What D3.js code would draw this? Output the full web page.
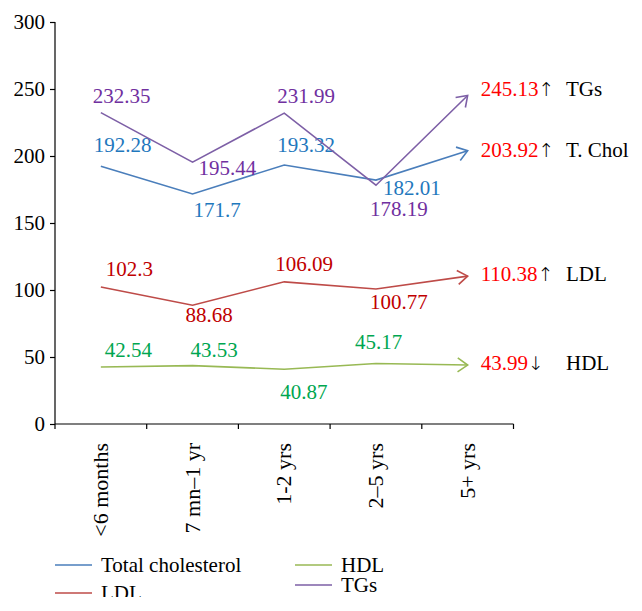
<!DOCTYPE html>
<html><head><meta charset="utf-8">
<script src="https://cdn.jsdelivr.net/npm/d3@7"></script>
<style>
body{margin:0;background:#fff;}
svg{display:block;font-family:"Liberation Serif","Times New Roman",serif;}
</style></head>
<body><svg id="c" width="642" height="611"></svg>
<script>
// ---- data ----
const categories = ["<6 months", "7 mn\u20131 yr", "1-2 yrs", "2\u20135 yrs", "5+ yrs"];
const totalChol = [192.28, 171.7, 193.32, 182.01, 203.92];
const ldl = [102.3, 88.68, 106.09, 100.77, 110.38];
const hdl = [42.54, 43.53, 40.87, 45.17, 43.99];
const tgs = [232.35, 195.44, 231.99, 178.19, 245.13];
const yTicks = [0, 50, 100, 150, 200, 250, 300];
const seriesNames = ["Total cholesterol", "LDL", "HDL", "TGs"];
const endLabels = ["T. Chol", "LDL", "HDL", "TGs"];
const trends = ["\u2191", "\u2191", "\u2193", "\u2191"];

// ---- styles ----
const lineColors = ["#4a7ebb", "#be4b48", "#98b954", "#7d5fa6"];
const labelColors = ["#1f78bd", "#c00000", "#00a650", "#7030a0"];
// label offsets [dx, dy] relative to point (text-anchor start, baseline)
const labelOffsets = [
  [[-7,-14],[1,23],[-7,-13],[7,15]],
  [[5,-11],[-7,16.5],[-9,-11],[-6,20]],
  [[4,-10],[-2,-9],[-4,30],[-21,-14.5]],
  [[-8,-10],[6,13],[-7,-10],[-6,31]]
];
const endDy = [6, 5, 5, 0];

const data = [totalChol, ldl, hdl, tgs];
const svg = d3.select("#c");
const x0 = 55, x1 = 513.5, yTop = 22, yBot = 424;
const x = d3.scaleBand().domain(categories).range([x0, x1]).paddingInner(0).paddingOuter(0);
const y = d3.scaleLinear().domain([0, 300]).range([yBot, yTop]);
const cx = c => x(c) + x.bandwidth() / 2;

// markers
const defs = svg.append("defs");
lineColors.forEach((col, i) => {
  defs.append("marker").attr("id", "arr" + i)
    .attr("markerUnits", "userSpaceOnUse")
    .attr("viewBox", "-12 -8 14 16").attr("refX", 0).attr("refY", 0)
    .attr("markerWidth", 14).attr("markerHeight", 16).attr("orient", "auto")
    .append("path").attr("d", "M-10,-7 L0,0 L-10,7")
    .attr("fill", "none").attr("stroke", col).attr("stroke-width", 1.6);
});

// y axis
const yAxis = svg.append("g").attr("transform", `translate(${x0},0)`)
  .call(d3.axisLeft(y).tickValues(yTicks).tickSize(5).tickPadding(5).tickFormat(d3.format("d")));
yAxis.select(".domain").attr("stroke", "#000").attr("stroke-width", 1.2).attr("d", `M0,${yTop}V${yBot}`);
yAxis.selectAll(".tick line").attr("stroke", "#000").attr("stroke-width", 1.2);
yAxis.selectAll(".tick text").attr("font-size", 21).attr("fill", "#000")
  .attr("font-family", "Liberation Serif, serif");

// x axis
const xAxis = svg.append("g").attr("transform", `translate(0,${yBot})`);
xAxis.append("line").attr("x1", x0).attr("x2", x1).attr("stroke", "#000").attr("stroke-width", 1.2);
const bounds = categories.map(c => x(c)).concat([x1]);
xAxis.selectAll("line.t").data(bounds).join("line").attr("class", "t")
  .attr("x1", d => d).attr("x2", d => d).attr("y1", 0).attr("y2", 5)
  .attr("stroke", "#000").attr("stroke-width", 1.2);
xAxis.selectAll("text").data(categories).join("text")
  .attr("transform", d => `translate(${cx(d) + 7},19) rotate(-90)`)
  .attr("text-anchor", "end").attr("font-size", 22).attr("fill", "#000").text(d => d);

// lines
const line = d3.line().x((d, i) => cx(categories[i])).y(d => y(d));
data.forEach((s, si) => {
  svg.append("path").datum(s).attr("d", line).attr("fill", "none")
    .attr("stroke", lineColors[si]).attr("stroke-width", 1.6)
    .attr("marker-end", `url(#arr${si})`);
  // point labels (first four)
  svg.append("g").selectAll("text").data(s.slice(0, 4)).join("text")
    .attr("x", (d, i) => cx(categories[i]) + labelOffsets[si][i][0])
    .attr("y", (d, i) => y(d) + labelOffsets[si][i][1])
    .attr("font-size", 21).attr("fill", labelColors[si]).text(d => d);
  // end annotation
  const last = s[s.length - 1];
  const lx = cx(categories[4]);
  const t = svg.append("text").attr("x", lx + 13).attr("y", y(last) + endDy[si]).attr("font-size", 21);
  t.append("tspan").attr("fill", "#ff0000").text(last.toFixed(2));
  t.append("tspan").attr("fill", "#000").attr("font-family", "DejaVu Sans, sans-serif")
    .attr("font-weight", 200).attr("font-size", 19).text(trends[si]);
  svg.append("text").attr("x", 566).attr("y", y(last) + endDy[si]).attr("font-size", 21)
    .attr("fill", "#000").text(endLabels[si]);
});

// legend
defs.append("clipPath").attr("id", "lgclip").append("rect").attr("x", 0).attr("y", 540).attr("width", 642).attr("height", 57);
const legendPos = [[55, 565], [55, 593], [295, 565], [295, 585]];
const lg = svg.append("g").attr("clip-path", "url(#lgclip)");
seriesNames.forEach((n, i) => {
  const [lx, ly] = legendPos[i];
  lg.append("line").attr("x1", lx).attr("x2", lx + 37).attr("y1", ly).attr("y2", ly)
    .attr("stroke", lineColors[i]).attr("stroke-width", 1.6);
  lg.append("text").attr("x", lx + 46).attr("y", ly + 6.5).attr("font-size", 21).attr("fill", "#000").text(n);
});
</script></body></html>
